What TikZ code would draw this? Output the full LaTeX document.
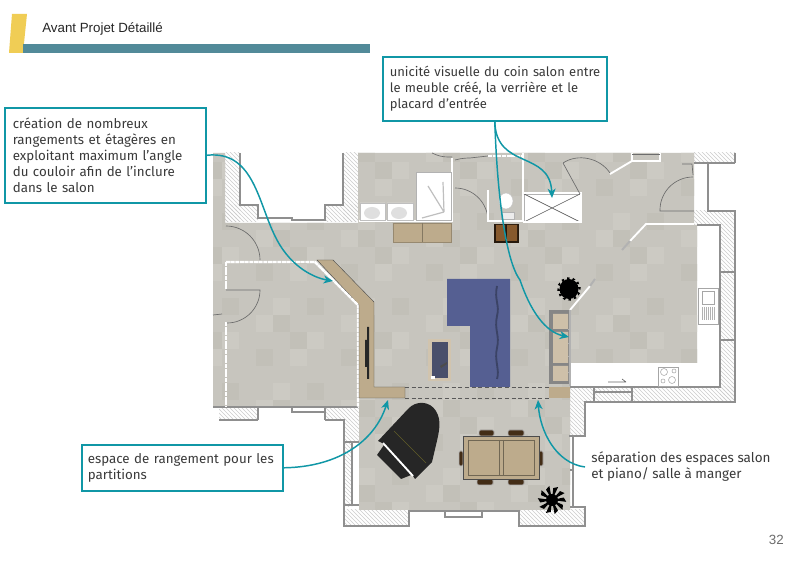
\documentclass[tikz,border=0pt]{standalone}
\usepackage{fontspec}
\setmainfont{Fira Sans}
\newfontfamily\arialf{Liberation Sans}
\usetikzlibrary{patterns,arrows.meta,calc}
\definecolor{teal1}{HTML}{1097A6}
\definecolor{barteal}{HTML}{528A99}
\definecolor{baryel}{HTML}{F0CD55}
\definecolor{flA}{HTML}{C7C5BE}
\definecolor{flB}{HTML}{CCCAC3}
\definecolor{flC}{HTML}{C2C0B8}
\definecolor{wood}{HTML}{BDAB8C}
\definecolor{sofa}{HTML}{555F92}
\definecolor{walld}{HTML}{8F8F8F}
\definecolor{txt}{HTML}{3A3A3A}
\tikzset{
  x=0.75pt,y=-0.75pt,
  callout/.style={draw=teal1,line width=1.2pt,fill=white,inner sep=0pt,text=txt,align=left,anchor=north west,font=\fontsize{10}{12}\selectfont},
  plain/.style={inner sep=0pt,text=txt,align=left,anchor=north west,font=\fontsize{10.1}{12}\selectfont},
  conn/.style={draw=teal1,line width=1.1pt,-{Stealth[length=7pt,width=6pt,inset=2pt]}},
  wallline/.style={draw=walld,line width=0.8pt},
  hatchw/.style={pattern=north west lines,pattern color=gray!40,draw=none},
  whitew/.style={draw=white,line width=1.4pt},
  dooredge/.style={draw=gray!85!black,line width=0.5pt},
  dashw/.style={draw=white,line width=1.7pt,dash pattern=on 3pt off 0.5pt},
  dashl/.style={draw=gray!70!black,line width=0.5pt,densely dashed},
  chair/.style={fill=black!65!brown,draw=gray!60,line width=0.5pt,rounded corners=1pt},
}
\begin{document}
\begin{tikzpicture}
\useasboundingbox (0,0) rectangle (800,566);
\fill[white] (0,0) rectangle (800,566);
% hatched walls
\path[hatchw] (225,153) rectangle (240,222);
\path[hatchw] (225,205) rectangle (258,222);
\path[hatchw] (325,205) rectangle (358,222);
\path[hatchw] (343,153) rectangle (358,222);
\path[hatchw] (694,153) rectangle (735,163);
\path[hatchw] (694,211) rectangle (735,225);
\path[hatchw] (720,225) rectangle (735,402);
\path[hatchw] (570,387) rectangle (735,402);
\path[hatchw] (570,402) rectangle (585,436);
\path[hatchw] (219,407) rectangle (258,420);
\path[hatchw] (325,407) rectangle (359,420);
\path[hatchw] (344,420) rectangle (359,442);
\path[hatchw] (344,442) rectangle (352,507);
\path[hatchw] (344,510) rectangle (409,526);
\path[hatchw] (519,510) rectangle (585,526);
% floor
\begin{scope}
\clip (213,153) -- (225,153) -- (225,223) -- (358,223) -- (358,153) -- (694,153) -- (694,225) -- (697,225) -- (697,363) -- (570,363) -- (570,510) -- (359,510) -- (359,407) -- (213,407) -- cycle;
\fill[flA] (200,140) rectangle (710,520);
\foreach \i in {0,...,29}{
  \foreach \j in {0,...,22}{
    \pgfmathtruncatemacro{\k}{mod(\i*7+\j*13+\i*\j,5)}
    \ifnum\k=1 \fill[flB] ({205+17*\i},{145+17*\j}) rectangle ++(17,17);\fi
    \ifnum\k=3 \fill[flC] ({205+17*\i},{145+17*\j}) rectangle ++(17,17);\fi
  }
}
\end{scope}
% wall outlines
\draw[wallline] (240,153) -- (240,205) -- (258,205) -- (258,218) -- (292,218) -- (292,220) -- (325,220) -- (325,205) -- (343,205) -- (343,153);
\draw[wallline] (694,163) -- (735,163);
\draw[wallline] (708,163) -- (708,211) -- (735,211) -- (735,402) -- (585,402) -- (585,436) -- (569,436);
\draw[wallline] (735,153) -- (735,163);
\draw[wallline] (697,225) -- (720,225) -- (720,387) -- (570,387);
\draw[wallline] (594,387) -- (594,402) (632,387) -- (632,402) (594,392) -- (632,392);
\draw[wallline] (573,436) -- (573,507) (570,470) -- (573,470);
\draw[wallline] (213,407) -- (358,407) (258,407) -- (258,420) (325,407) -- (325,420) (258,420) -- (219,420);
\draw[wallline] (325,420) -- (344,420) -- (344,526) -- (409,526) -- (409,510) (519,510) -- (519,526) -- (585,526) -- (585,507) -- (570,507);
\draw[wallline] (409,511) -- (519,511) (445,511) -- (445,517) -- (482,517) -- (482,511);
\draw[wallline] (352,442) -- (352,505) (344,505) -- (359,505) (344,442) -- (359,442);
\draw[wallline] (292,407) -- (292,412) -- (325,412);
% kitchen
\draw[wallline] (720,272) -- (735,272) (720,340) -- (735,340);
\draw[gray!70,fill=white,line width=0.4pt] (698,288) rectangle (718,324);
\draw[gray!70,line width=0.4pt] (702,291) rectangle (714,304);
\foreach \xx in {702,704,...,714}{\draw[gray!60,line width=0.3pt] (\xx,307) -- (\xx,320);}
\draw[gray!70,line width=0.4pt] (658,367) rectangle (678,386);
\draw[gray!70,line width=0.4pt] (664,372) circle (3.5) (674,371) circle (2) (663,381) circle (2) (672,380) circle (3.5);
\draw[gray!80!black,line width=0.5pt] (608,382) -- (626,382) (622,379) -- (626,382);
% interior walls left room
\draw[dashw] (226,262) -- (315,262) -- (358,305) -- (358,407);
\draw[dashw] (226,262) -- (226,290) (226,322) -- (226,407);
\draw[dooredge] (226,290) -- (260,290) arc[start angle=0,end angle=90,radius=33];
\draw[dooredge] (213,315) -- (222,314);
\draw[dooredge] (226,226) arc[start angle=-90,end angle=0,radius=34] -- (260,259);
% cabinet
\fill[wood,draw=gray!60!black,line width=0.3pt] (317,260) -- (333,260) -- (374,302) -- (374,387) -- (405,387) -- (405,398) -- (359,398) -- (359,305) -- cycle;
\draw[dashw] (315,262) -- (358,305);
\fill[black!85] (367,327) rectangle (369,379) (365,340) rectangle (367,367);
% dashed partition
\draw[dashl] (405,387) -- (549,387) (405,398) -- (549,398);
% bathroom
\draw[whitew] (359,221) -- (452,221) -- (452,158);
\fill[white,draw=gray!50,line width=0.3pt] (360,203) rectangle (385,220) (387,203) rectangle (413,220);
\fill[gray!25] (372,213) ellipse (8 and 6) (399,213) ellipse (8 and 6);
\fill[white,draw=gray!60,line width=0.4pt] (416,172) rectangle (451,220);
\draw[gray!50,line width=0.9pt] (444,212) -- (428,186) (444,212) -- (443,182) (444,212) -- (422,218);
\fill[wood,draw=wood!80!black,line width=0.3pt] (393,223) rectangle (451,242);
\draw[wood!70!black,line width=0.3pt] (422,223) -- (422,242);
% doors and walls upper
\draw[dooredge] (432,153) .. controls (438,156) and (443,157) .. (448,157) -- (452,157);
\draw[dooredge] (455,188) arc[start angle=-90,end angle=0,radius=33];
\draw[dooredge] (455,160) .. controls (462,158) and (468,158) .. (470,158) -- (488,156);
\draw[whitew] (488,190) -- (488,221) -- (523,221) -- (523,153);
\draw[dashw] (488,156) -- (523,156);
\fill[white,draw=gray!50,line width=0.3pt] (506,201) ellipse (7 and 8);
\fill[gray!15,draw=gray!60,line width=0.3pt] (501,212) rectangle (514,219);
\fill[black!80!brown] (494,224) rectangle (519,243);
\fill[brown!70!black] (496,225) rectangle (505,241) (507,225) rectangle (517,241);
% closet
\fill[white,draw=gray!60,line width=0.6pt] (524,194) rectangle (580,222);
\draw[gray!70!black,line width=0.5pt] (524,194) -- (580,222) (524,222) -- (580,194);
\draw[whitew] (523,193) -- (581,193) -- (581,222) -- (523,222);
\draw[dooredge] (580,194) -- (563,163);
\draw[dooredge] (563,163) .. controls (578,153) and (600,158) .. (610,173);
\draw[whitew] (610,174) -- (632,161) -- (660,161) -- (660,153);
\draw[whitew] (632,161) -- (632,153);
\draw[dooredge] (632,154) -- (660,154);
\draw[dooredge] (682,164) -- (692,164) -- (693,175);
\draw[dooredge] (693,177) arc[start angle=-90,end angle=-180,radius=33] -- (660,211) -- (694,211);
% white door opening
\fill[white] (695,165) rectangle (707,210);
% upper right wall
\draw[whitew] (694,224) -- (646,224) -- (630,241);
\draw[gray!60,line width=1.5pt] (630,241) -- (622,250);
% right wall plus diagonal
\draw[whitew] (570,310) -- (590,286);
\draw[gray!60,line width=1.5pt] (590,286) -- (595,279);
% sofa
\fill[sofa] (447,279) -- (510,279) -- (510,387) -- (470,387) -- (470,326) -- (447,326) -- cycle;
\draw[black!30!sofa,line width=1.4pt] (497,286) .. controls (494,300) and (500,305) .. (497,316) .. controls (494,330) and (500,335) .. (497,348) .. controls (494,360) and (500,370) .. (497,379);
% ottoman
\fill[wood!70!white] (428,339) rectangle (451,381);
\fill[black!30!sofa!80!gray] (432,342) rectangle (448,378);
\fill[black!70] (440,366) -- (447,362) -- (447,364) -- (441,368) -- cycle;
\fill[white] (431,376) rectangle (435,379);
% storage
\fill[gray!95] (549,310) rectangle (570,384);
\fill[wood!75!white] (553,314) rectangle (568,329) (553,332) rectangle (568,363) (553,366) rectangle (568,381);
\fill[wood] (549,387) rectangle (570,398);
\draw[gray!60,line width=1pt] (570,310) -- (570,386);
\foreach \yy in {329,343,356,372}{\draw[gray!60,line width=0.4pt] (568,\yy) -- (571,\yy);}
% plants
\foreach \a in {0,30,...,330}{\fill[black] (569,289) ++(\a-14:8) -- ++(\a:4) -- ++(\a+100:3) -- cycle;}
\fill[black] (569,289) ellipse (9.5 and 10);
\foreach \a in {0,36,...,324}{\fill[black] (552,500) -- ++(\a-12:12) -- ++(\a+60:5) -- cycle;}
\fill[black] (552,500) circle (6);
% piano
\fill[black!85] (378,441) -- (408,409) .. controls (416,400) and (430,401) .. (436,411) .. controls (442,421) and (439,432) .. (436,445) -- (432,462) -- (415,479) -- (413,476) -- (382,443) -- cycle;
\fill[black!85] (377,455) -- (384,445) -- (411,475) -- (401,479) -- cycle;
\draw[white,line width=1.4pt] (383,443) -- (413,476);
\draw[olive!60!black,line width=0.3pt] (394,431) -- (426,463);
% table
\fill[chair] (479,430) rectangle (494,436) (508,430) rectangle (524,436) (477,479) rectangle (493,485) (508,479) rectangle (524,485);
\fill[chair] (459,451) rectangle (463,466) (539,451) rectangle (543,466);
\fill[wood,draw=black!70,line width=0.5pt] (463,436) rectangle (539,479);
\draw[wood!60!black,line width=0.4pt] (468,440) rectangle (534,475) (499,440) -- (499,475) (503,440) -- (503,475);
% header
\fill[baryel] (12,14) -- (27,14) -- (23,53) -- (9,53) -- cycle;
\fill[barteal] (23,44) rectangle (370,53);
\node[inner sep=0pt,anchor=base west,font=\arialf\fontsize{10}{11}\selectfont,text=black!85] (title) at (42,33) {Avant Projet Détaillé};
\node[inner sep=0pt,anchor=base east,font=\arialf\fontsize{10}{11}\selectfont,text=gray!85!black] (page) at (784,544) {32};
% callouts
\node[callout,minimum width=150.75pt,minimum height=71.25pt,text width=138.75pt] (boxa) at (4,107) {création de nombreux\\rangements et étagères en\\exploitant maximum l'angle\\du couloir afin de l'inclure\\dans le salon};
\node[callout,font=\fontsize{9.75}{12}\selectfont,minimum width=168pt,minimum height=48pt,text width=157.5pt] (boxb) at (382,56) {\mbox{unicité visuelle du coin salon entre}\\le meuble créé, la verrière et le\\placard d'entrée};
\node[callout,minimum width=150.75pt,minimum height=34.5pt,text width=141.75pt] (boxc) at (81,444) {espace de rangement pour les\\partitions};
\node[plain] (boxd) at (591,451) {séparation des espaces salon\\et piano/ salle à manger};
% targets
\coordinate (ta) at (333,281);
\coordinate (tb1) at (569,337);
\coordinate (tb2) at (552,198);
\coordinate (tc) at (388,400);
\coordinate (td) at (538,400);
\coordinate (sd) at (585,467);
\draw[conn] (boxa.east) .. controls (255,150) and (258,205) .. (277,240) .. controls (292,268) and (315,278) .. (ta);
\draw[conn] (boxb.south) .. controls (497,190) and (505,260) .. (520,280) .. controls (530,310) and (545,332) .. (tb1);
\draw[conn] (boxb.south) .. controls (496,170) and (550,150) .. (tb2);
\draw[conn] (boxc.east) .. controls (340,467) and (375,440) .. (tc);
\draw[conn] (sd) .. controls (555,463) and (540,430) .. (td);
\end{tikzpicture}
\end{document}
